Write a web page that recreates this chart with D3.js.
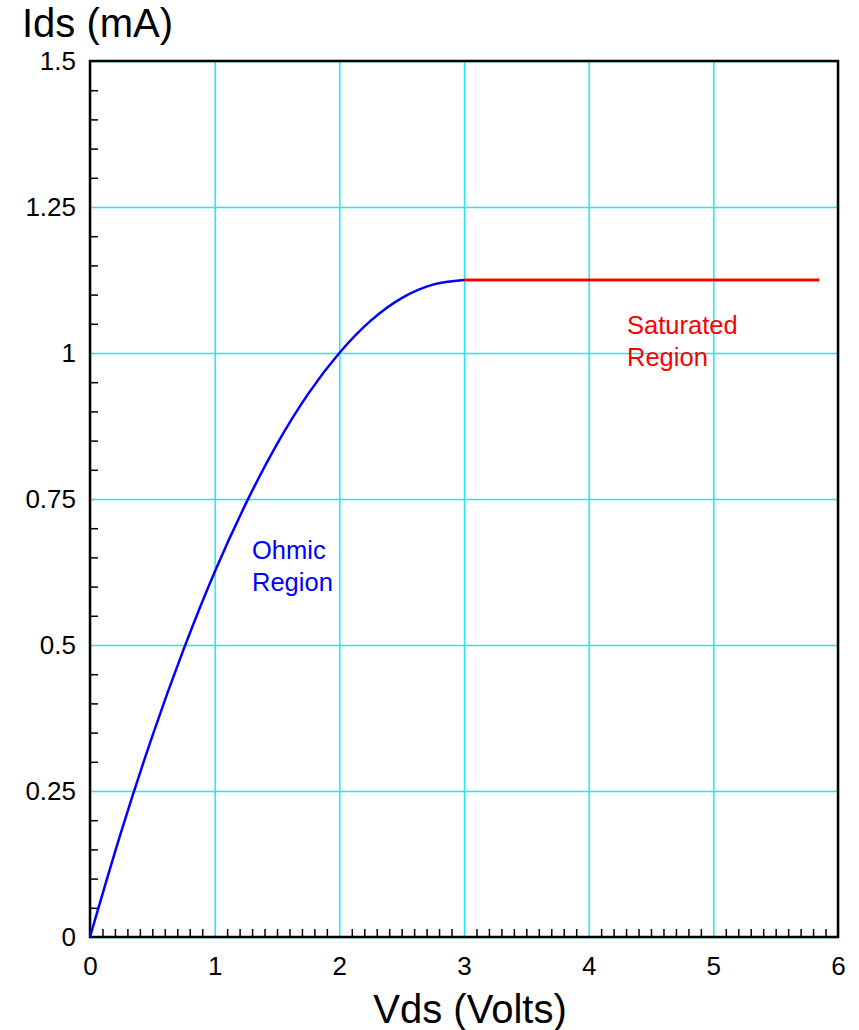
<!DOCTYPE html>
<html>
<head>
<meta charset="utf-8">
<script src="https://cdn.jsdelivr.net/npm/d3@7"></script>
<style>
  html, body { margin: 0; padding: 0; background: #fff; }
  svg { display: block; font-family: "Liberation Sans", Arial, Helvetica, sans-serif; }
</style>
</head>
<body>
<svg id="chart" width="859" height="1030"></svg>
<script>
// Drain voltage (V) and drain current (mA) in the ohmic region
const ohmicVds = [0, 0.25, 0.5, 0.75, 1, 1.25, 1.5, 1.75, 2, 2.25, 2.5, 2.75, 3];
const ohmicIds = [0, 0.180, 0.344, 0.492, 0.625, 0.742, 0.844, 0.930, 1.0, 1.055, 1.094, 1.117, 1.125];
// Saturated region: flat current beyond pinch-off
const satVds = [3, 5.85];
const satIds = [1.125, 1.125];

const xTicks = [0, 1, 2, 3, 4, 5, 6];
const yTicks = [0, 0.25, 0.5, 0.75, 1, 1.25, 1.5];
const xMinor = d3.range(1, 60).map(i => i / 10).filter(v => Math.abs(v - Math.round(v)) > 1e-6);
const yMinor = d3.range(1, 30).map(i => i / 20).filter(v => Math.abs(v * 4 - Math.round(v * 4)) > 1e-6);

const plotL = 90, plotR = 838, plotT = 61, plotB = 937;
const svg = d3.select("#chart");
const x = d3.scaleLinear().domain([0, 6]).range([plotL, plotR]);
const y = d3.scaleLinear().domain([0, 1.5]).range([plotB, plotT]);

// Grid lines
const grid = svg.append("g");
grid.append("g").attr("transform", `translate(0,${plotB})`)
  .call(d3.axisBottom(x).tickValues(xTicks).tickSize(-(plotB - plotT)).tickFormat(""))
  .call(g => g.select(".domain").remove())
  .call(g => g.selectAll("line").attr("stroke", "#22e8ee").attr("stroke-width", 1.5));
grid.append("g").attr("transform", `translate(${plotL},0)`)
  .call(d3.axisLeft(y).tickValues(yTicks).tickSize(-(plotR - plotL)).tickFormat(""))
  .call(g => g.select(".domain").remove())
  .call(g => g.selectAll("line").attr("stroke", "#22e8ee").attr("stroke-width", 1.5));

// Minor ticks pointing inward
svg.append("g").attr("transform", `translate(0,${plotB})`)
  .call(d3.axisBottom(x).tickValues(xMinor).tickSize(-8).tickFormat(""))
  .call(g => g.select(".domain").remove())
  .call(g => g.selectAll("line").attr("stroke", "#000").attr("stroke-width", 1.5));
svg.append("g").attr("transform", `translate(${plotL},0)`)
  .call(d3.axisLeft(y).tickValues(yMinor).tickSize(-8).tickFormat(""))
  .call(g => g.select(".domain").remove())
  .call(g => g.selectAll("line").attr("stroke", "#000").attr("stroke-width", 1.5));

// Tick labels
svg.append("g").attr("transform", `translate(0,${plotB})`)
  .call(d3.axisBottom(x).tickValues(xTicks).tickSize(0).tickPadding(0).tickFormat(d => String(d)))
  .call(g => g.select(".domain").remove())
  .call(g => g.selectAll("text").attr("dy", null).attr("y", 38)
    .attr("font-size", 26).attr("font-family", null).attr("fill", "#000"));
svg.append("g").attr("transform", `translate(${plotL},0)`)
  .call(d3.axisLeft(y).tickValues(yTicks).tickSize(0).tickPadding(14).tickFormat(d => String(d)))
  .call(g => g.select(".domain").remove())
  .call(g => g.selectAll("text").attr("font-size", 26).attr("font-family", null).attr("fill", "#000"));

// Plot frame
svg.append("rect")
  .attr("x", plotL).attr("y", plotT)
  .attr("width", plotR - plotL).attr("height", plotB - plotT)
  .attr("fill", "none").attr("stroke", "#000").attr("stroke-width", 2.5);

// Curves
const line = d3.line().x(d => x(d[0])).y(d => y(d[1])).curve(d3.curveMonotoneX);
svg.append("path")
  .datum(ohmicVds.map((v, i) => [v, ohmicIds[i]]))
  .attr("d", line).attr("fill", "none").attr("stroke", "#0000ff").attr("stroke-width", 2.5);
svg.append("path")
  .datum(satVds.map((v, i) => [v, satIds[i]]))
  .attr("d", d3.line().x(d => x(d[0])).y(d => y(d[1])))
  .attr("fill", "none").attr("stroke", "#ff0000").attr("stroke-width", 3);

// Region labels
function label(lines, px, py, color) {
  const t = svg.append("text").attr("fill", color).attr("font-size", 25.5);
  lines.forEach((s, i) => t.append("tspan").attr("x", px).attr("y", py + i * 32).text(s));
}
label(["Ohmic", "Region"], 252, 559, "#0000ff");
label(["Saturated", "Region"], 627, 334, "#ff0000");

// Axis titles
svg.append("text").attr("x", 22).attr("y", 37).attr("font-size", 40).attr("fill", "#000").text("Ids (mA)");
svg.append("text").attr("x", 470).attr("y", 1023).attr("text-anchor", "middle")
  .attr("font-size", 40).attr("fill", "#000").text("Vds (Volts)");
</script>
</body>
</html>
